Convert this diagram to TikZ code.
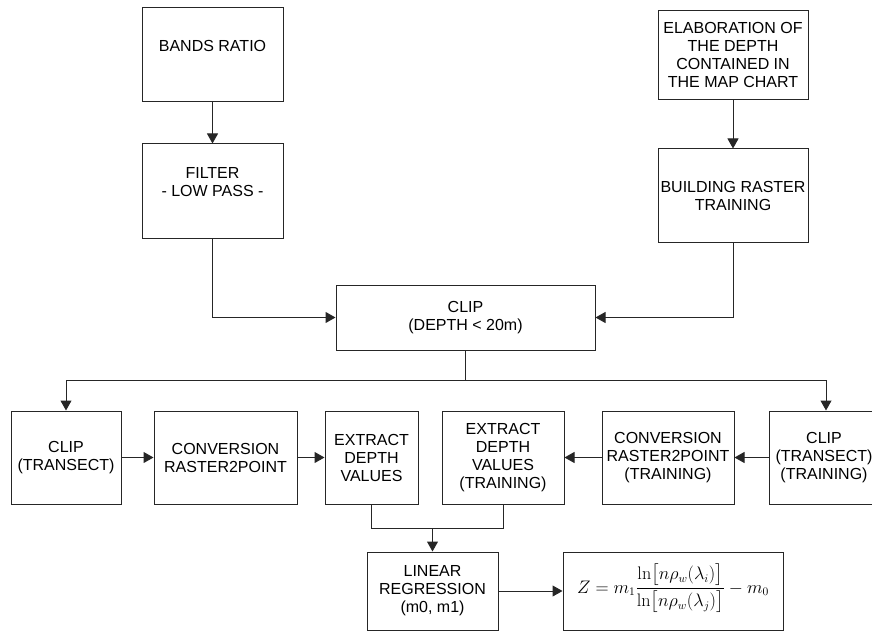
\documentclass[tikz,border=0pt]{standalone}
\usepackage{amsmath}
\usepackage[no-math]{fontspec}
\setmainfont{Liberation Sans}
\usepackage{tikz}
\usetikzlibrary{arrows.meta}
\usetikzlibrary{positioning}
\tikzstyle{bx}=[draw=black!85,rectangle,fill=white,line width=1pt,inner sep=2pt,align=center,font=\fontsize{16}{18}\selectfont]
\tikzstyle{ln}=[draw=black!85,line width=1pt]
\tikzstyle{ar}=[ln,-{Triangle[length=10pt,width=11pt]}]
\begin{document}
\begin{tikzpicture}[x=1pt,y=-1pt]
      \useasboundingbox (0,0) rectangle (872,631);
%      top rows
      \node [bx, minimum width=141, minimum height=94] (bands) at (212.5,55) {BANDS RATIO\\ \mbox{}};
      \node [bx, minimum width=141, minimum height=94] (filter) at (212.5,191) {FILTER\\- LOW PASS -\\ \mbox{}};
      \node [bx, minimum width=150, minimum height=89] (elab) at (733,55) {ELABORATION OF\\THE DEPTH\\CONTAINED IN\\THE MAP CHART};
      \node [bx, minimum width=150, minimum height=93] (build) at (733,195.5) {BUILDING RASTER\\TRAINING};
      \node [bx, minimum width=259, minimum height=65] (clip) at (465.5,317.5) {CLIP\\(DEPTH < 20m)};
%      middle row
      \node [bx, minimum width=110, minimum height=93] (clipt) at (66,457.5) {CLIP\\(TRANSECT)};
      \node [bx, minimum width=143, minimum height=93] (conv) at (225.5,457.5) {CONVERSION\\RASTER2POINT};
      \node [bx, minimum width=93, minimum height=93] (extr) at (371.5,457.5) {EXTRACT\\DEPTH\\VALUES};
      \node [bx, minimum width=122, minimum height=93] (extrt) at (503,457.5) {EXTRACT\\DEPTH\\VALUES\\(TRAINING)};
      \node [bx, minimum width=132, minimum height=93] (convt) at (668,457.5) {CONVERSION\\RASTER2POINT\\(TRAINING)};
      \node [bx, minimum width=110, minimum height=93] (cliptt) at (824,457.5) {CLIP\\(TRANSECT)\\(TRAINING)};
%      bottom row
      \node [bx, minimum width=131, minimum height=78] (linreg) at (432.5,591) {LINEAR\\REGRESSION\\(m0, m1)};
      \node [bx, minimum width=220, minimum height=78] (formula) at (673,591)
        {\scalebox{1.05}{$\displaystyle Z=m_1\frac{\ln\bigl[n\rho_w(\lambda_i)\bigr]}{\ln\bigl[n\rho_w(\lambda_j)\bigr]}-m_0$}\\[4pt]};
      \coordinate (split) at (465.5,380);
      \coordinate (join) at (432.5,528);
      \path [ar]
      (bands) -- (filter);
      \path [ar]
      (elab) -- (build);
      \path [ar]
      (filter.south) |- (clip.west);
      \path [ar]
      (build.south) |- (clip.east);
      \path [ln]
      (clip.south) -- (split);
      \path [ar]
      (split) -| (clipt.north);
      \path [ar]
      (split) -| ([xshift=2pt]cliptt.north);
      \path [ar]
      (clipt) -- (conv);
      \path [ar]
      (conv) -- (extr);
      \path [ar]
      (cliptt) -- (convt);
      \path [ar]
      (convt) -- (extrt);
      \path [ln]
      (extr.south) |- (join)
      (extrt.south) |- (join);
      \path [ar]
      (join) -- (linreg);
      \path [ar]
      (linreg) -- (formula);
    \end{tikzpicture}
\end{document}
